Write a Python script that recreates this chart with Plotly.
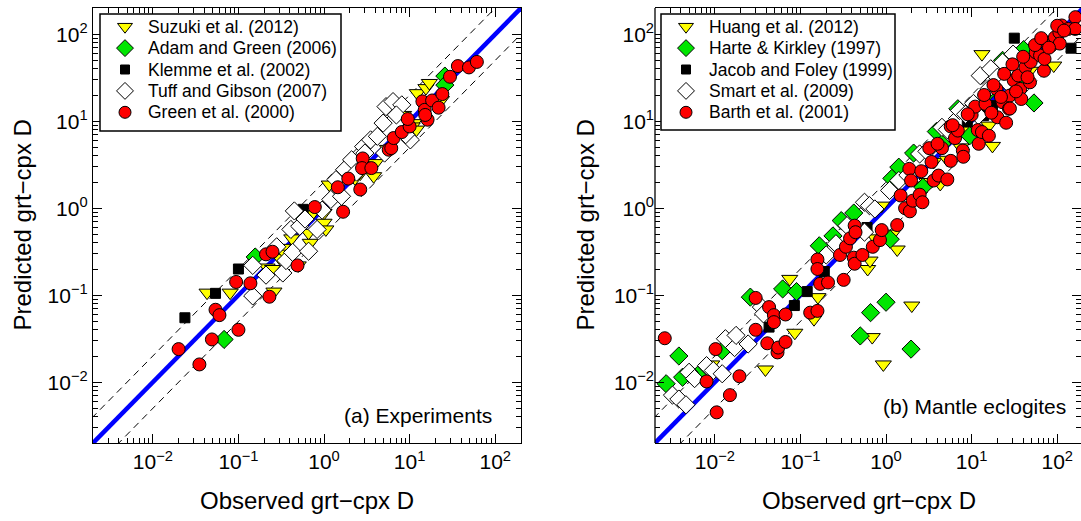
import plotly.graph_objects as go
import numpy as np

# ---------------- data: panel (a) Experiments ----------------
suzuki_x = [0.043, 0.080, 0.26, 0.216, 0.25, 0.30, 0.33, 0.50, 0.66, 0.69, 0.60, 0.72, 1.0, 1.0, 1.05, 1.15,
            3.8, 2.65, 4.0, 8.5, 11.2, 12.3, 15.5, 17, 23.5, 10.7, 0.35, 0.42, 2.3, 5.5, 12.0]
suzuki_y = [0.107, 0.107, 0.11, 0.208, 0.20, 0.27, 0.35, 0.22, 0.52, 0.40, 0.71, 0.85, 0.88, 0.68, 0.57, 1.87,
            2.33, 2.5, 3.3, 11.8, 9.5, 21, 24, 27.5, 17.5, 8.7, 0.30, 0.45, 2.2, 4.8, 8.0]

adam_x = [0.068, 0.157, 0.55, 25.8, 25.8]
adam_y = [0.031, 0.275, 0.82, 33, 26]

klemme_x = [0.0237, 0.054, 0.10, 0.57]
klemme_y = [0.055, 0.105, 0.20, 0.97]

tuff_x = [0.147, 0.147, 0.21, 0.33, 0.36, 0.41, 0.45, 0.43, 0.66, 0.52, 0.83, 1.2, 1.6, 1.38, 1.74, 2.1,
          2.9, 3.5, 4.2, 4.9, 5.3, 6.4, 8.1, 7.0, 10.2, 3.0, 5.1, 0.28, 0.6, 0.95, 2.4, 9.0]
tuff_y = [0.098, 0.22, 0.17, 0.18, 0.25, 0.57, 0.93, 0.31, 0.32, 0.62, 0.57, 1.26, 1.37, 2.13, 2.77, 3.6,
          5.1, 6.1, 6.7, 9.5, 14.7, 16.8, 15.4, 11.8, 6.1, 4.3, 4.3, 0.36, 0.75, 0.95, 2.6, 7.0]

green_x = [0.020, 0.035, 0.049, 0.054, 0.060, 0.10, 0.094, 0.138, 0.21, 0.25, 0.23, 0.49, 0.78, 1.67, 1.45,
           1.92, 2.65, 2.83, 2.78, 3.57, 5.7, 6.1, 6.5, 8.1, 10, 9.5, 14.1, 15.0, 16.2, 15.2, 18.3, 21.8,
           24.1, 29.6, 36.6, 49.3, 61]
green_y = [0.024, 0.016, 0.031, 0.068, 0.059, 0.040, 0.142, 0.137, 0.295, 0.316, 0.096, 0.22, 1.03, 0.91, 1.74,
           2.19, 1.64, 3.73, 2.89, 2.89, 4.7, 4.9, 6.4, 7.5, 8.7, 10.6, 16.9, 13.5, 10.4, 11.8, 17.3, 14.3,
           20.5, 32.4, 43, 41.5, 48]

# ---------------- data: panel (b) Mantle eclogites ----------------
huang_x = [0.039, 0.086, 0.075, 0.16, 0.144, 0.0092, 0.61, 0.65, 0.69, 0.93, 2.0, 1.35, 1.2, 0.89, 4.3,
           13.2, 17.5, 91, 46.5, 15.9, 9.1, 3.6, 2.47, 0.75, 30, 60, 3.0, 5.2, 7.5, 22, 48]
huang_y = [0.014, 0.037, 0.154, 0.095, 0.053, 0.016, 0.20, 0.25, 0.033, 0.016, 0.076, 0.335, 0.51, 1.07, 1.9,
           59, 5.2, 43.6, 67, 8.9, 7.8, 3.4, 1.82, 0.45, 22, 60, 2.0, 3.6, 5.0, 30, 38]

harte_x = [0.0027, 0.0038, 0.0042, 0.0063, 0.0122, 0.026, 0.062, 0.090, 0.166, 0.24, 0.30, 0.42, 0.50, 0.66,
           1.0, 1.96, 1.12, 1.41, 2.1, 3.87, 6.9, 9.5, 23, 40.5, 53.5, 2.7, 1.17, 20, 11, 35, 4.5, 16]
harte_y = [0.0096, 0.020, 0.0114, 0.012, 0.023, 0.095, 0.118, 0.11, 0.37, 0.48, 0.72, 0.88, 0.034, 0.063,
           0.083, 0.024, 0.44, 2.96, 4.3, 7.6, 13.9, 6.8, 50, 66.5, 16.2, 1.74, 2.2, 28, 14, 30, 5.5, 22]

jacob_x = [0.043, 0.085, 0.12, 0.19, 0.60, 8.9, 13.8, 17.5, 31.5, 145]
jacob_y = [0.043, 0.076, 0.11, 0.187, 0.60, 9.9, 11.6, 15.1, 90, 69]

smart_x = [0.0032, 0.0038, 0.0046, 0.0050, 0.0058, 0.0080, 0.0096, 0.0122, 0.0133, 0.017, 0.0177, 0.0245,
           0.035, 0.037, 0.20, 0.26, 0.35, 0.56, 0.64, 0.74, 0.56, 1.41, 2.47, 4.5, 7.2, 12.6, 16.7, 23,
           30.5, 15.9, 12, 1.1, 1.8, 3.0, 5.2, 8.5, 10.5, 20, 26]
smart_y = [0.0071, 0.0064, 0.0055, 0.013, 0.011, 0.0155, 0.0136, 0.0125, 0.0316, 0.025, 0.0345, 0.0275,
           0.073, 0.061, 0.29, 0.39, 0.63, 1.17, 1.07, 0.98, 0.53, 2.08, 4.2, 8.5, 13.3, 33.4, 40, 47.6,
           59, 23.5, 11.6, 1.6, 2.4, 4.5, 8.0, 12.0, 16.0, 32, 28]

barth_x = [0.0026, 0.0080, 0.0105, 0.0102, 0.015, 0.0194, 0.030, 0.030, 0.041, 0.043, 0.049, 0.049, 0.054,
           0.055, 0.067, 0.067, 0.13, 0.158, 0.158, 0.158, 0.17, 0.21, 0.29, 0.32, 0.34, 0.38, 0.42, 0.43,
           0.43, 0.44, 0.53, 0.70, 0.85, 0.89, 1.35, 1.48, 1.67, 1.9, 2.05, 1.87, 1.96, 2.47, 2.66, 2.58,
           3.2, 3.4, 3.6, 4.1, 4.5, 5.2, 5.7, 5.7, 6.4, 6.9, 7.9, 10, 11, 11.8, 12.1, 13.2, 14.5, 15.9,
           19.5, 20, 23, 25.3, 27.3, 27.9, 31, 35, 37, 38, 42.5, 48, 49, 56, 63, 70, 71, 72, 85, 94, 106,
           107, 113, 135, 163, 162, 8.0, 17.0, 22.0, 4.0, 6.0, 9.0, 14, 18, 24, 30, 40, 55, 65, 80, 100,
           120, 28, 33, 45]
barth_y = [0.032, 0.0102, 0.0045, 0.024, 0.0071, 0.0117, 0.093, 0.040, 0.028, 0.073, 0.059, 0.049, 0.022,
           0.025, 0.060, 0.029, 0.063, 0.066, 0.257, 0.20, 0.135, 0.14, 0.29, 0.15, 0.36, 0.45, 0.27, 0.23,
           0.63, 0.53, 0.29, 0.36, 0.43, 0.56, 0.64, 1.40, 1.0, 0.92, 1.22, 2.83, 2.08, 1.43, 1.17, 2.66,
           4.9, 3.4, 2.08, 2.37, 4.9, 2.14, 3.5, 8.7, 6.4, 7.8, 4.6, 11.8, 14.7, 7.9, 5.5, 7.5, 15.8, 6.8,
           23.5, 11.1, 16.5, 9.6, 13.9, 19.7, 29.5, 33.5, 23.5, 18, 41.7, 28, 48, 62, 57, 38, 52, 81, 74,
           92, 105, 78, 126, 115, 157, 115, 3.9, 12.5, 19.0, 5.5, 9.0, 12.0, 20, 26, 35, 45, 55, 75, 90,
           70, 125, 110, 14, 22, 32]

tick_vals = [0.01, 0.1, 1, 10, 100]
tick_text = ["10<sup>\u22122</sup>", "10<sup>\u22121</sup>", "10<sup>0</sup>", "10<sup>1</sup>", "10<sup>2</sup>"]

# axis limits
DMIN, DMAX = 0.002, 200.0
LOG_LO, LOG_HI = np.log10(DMIN), np.log10(DMAX)

FONT = "Liberation Sans, Arial, sans-serif"
W, H = 1081, 521
AX_L, AX_R = 93, 521
BX_L = 655
Y_TOP, Y_BOT = 8, 443
px_per_dec = (AX_R - AX_L) / (LOG_HI - LOG_LO)
right_hi = LOG_LO + (W - BX_L) / px_per_dec

fig = go.Figure()

ref = [DMIN / 10, DMAX * 10]


def add_lines(xa, ya):
    fig.add_trace(go.Scatter(x=ref, y=[v * 2 for v in ref], mode="lines", xaxis=xa, yaxis=ya,
                             line=dict(color="black", width=1, dash="7px,5px"), showlegend=False, hoverinfo="skip"))
    fig.add_trace(go.Scatter(x=ref, y=[v / 2 for v in ref], mode="lines", xaxis=xa, yaxis=ya,
                             line=dict(color="black", width=1, dash="7px,5px"), showlegend=False, hoverinfo="skip"))
    fig.add_trace(go.Scatter(x=ref, y=ref, mode="lines", xaxis=xa, yaxis=ya,
                             line=dict(color="#0000ff", width=4.5), showlegend=False, hoverinfo="skip"))


add_lines("x", "y")
add_lines("x2", "y2")

ml = dict(color="black", width=1)
series_a = [
    ("Suzuki et al. (2012)", suzuki_x, suzuki_y, "triangle-down", "#ffff00", 14),
    ("Adam and Green (2006)", adam_x, adam_y, "diamond", "#00e600", 14),
    ("Klemme et al. (2002)", klemme_x, klemme_y, "square", "black", 10),
    ("Tuff and Gibson (2007)", tuff_x, tuff_y, "diamond", "white", 14),
    ("Green et al. (2000)", green_x, green_y, "circle", "#ff0000", 13),
]
series_b = [
    ("Huang et al. (2012)", huang_x, huang_y, "triangle-down", "#ffff00", 14),
    ("Harte &amp; Kirkley (1997)", harte_x, harte_y, "diamond", "#00e600", 14),
    ("Jacob and Foley (1999)", jacob_x, jacob_y, "square", "black", 10),
    ("Smart et al. (2009)", smart_x, smart_y, "diamond", "white", 14),
    ("Barth et al. (2001)", barth_x, barth_y, "circle", "#ff0000", 13),
]
for name, xs, ys, sym, col, sz in series_a:
    fig.add_trace(go.Scatter(x=xs, y=ys, mode="markers", name=name, xaxis="x", yaxis="y",
                             marker=dict(symbol=sym, color=col, size=sz, line=ml)))
for name, xs, ys, sym, col, sz in series_b:
    fig.add_trace(go.Scatter(x=xs, y=ys, mode="markers", name=name, xaxis="x2", yaxis="y2",
                             marker=dict(symbol=sym, color=col, size=sz, line=ml)))

minor_vals = [m * 10.0 ** e for e in range(-3, 3) for m in range(2, 10)]


def axis(rng, domain, anchor, showline=True):
    return dict(type="log", range=rng, domain=domain, anchor=anchor, showgrid=False, zeroline=False,
                showline=showline, linecolor="black", linewidth=1.3, mirror="ticks",
                ticks="inside", ticklen=9, tickwidth=1, tickcolor="black",
                tickmode="array", tickvals=tick_vals, ticktext=tick_text,
                tickfont=dict(family=FONT, size=21, color="black"),
                minor=dict(ticks="inside", ticklen=5, tickwidth=1, tickcolor="black",
                           tickmode="array", tickvals=minor_vals, showgrid=False))


ydom = [1 - Y_BOT / H, 1 - Y_TOP / H]
fig.update_layout(
    width=W, height=H, margin=dict(l=0, r=0, t=0, b=0),
    paper_bgcolor="white", plot_bgcolor="rgba(0,0,0,0)",
    font=dict(family=FONT, color="black"),
    xaxis=axis([LOG_LO, LOG_HI], [AX_L / W, AX_R / W], "y"),
    yaxis=axis([LOG_LO, LOG_HI], ydom, "x"),
    xaxis2=axis([LOG_LO, right_hi], [BX_L / W, 1.0], "y2"),
    yaxis2=axis([LOG_LO, LOG_HI], ydom, "x2", showline=False),
    # pixel overlay for the legends
    xaxis3=dict(domain=[0, 1], range=[0, W], anchor="y3", visible=False, fixedrange=True),
    yaxis3=dict(domain=[0, 1], range=[H, 0], anchor="x3", visible=False, fixedrange=True),
    showlegend=False,
)

# left frame line of right panel
fig.add_shape(type="line", xref="x2 domain", yref="y2 domain", x0=0, x1=0, y0=0, y1=1,
              line=dict(color="black", width=1.3))

# ---- hand-built legends (box, symbols, labels) ----
LEG_ROW0, LEG_DY = 26.7, 21.4
legends = [
    (series_a, (100, 341, 14, 131), 125, 146),
    (series_b, (661, 895, 14, 130), 686, 707),
]
leg_font = dict(family=FONT, size=17.5, color="black")
for series, (bx0, bx1, by0, by1), sym_x, txt_x in legends:
    fig.add_shape(type="rect", xref="x3", yref="y3", x0=bx0, x1=bx1, y0=by0, y1=by1, layer="below",
                  fillcolor="white", line=dict(color="black", width=1.5))
    for i, (name, xs, ys, sym, col, sz) in enumerate(series):
        yy = LEG_ROW0 + i * LEG_DY
        fig.add_trace(go.Scatter(x=[sym_x], y=[yy], mode="markers", xaxis="x3", yaxis="y3",
                                 marker=dict(symbol=sym, color=col, size=sz - 1, line=ml),
                                 showlegend=False, hoverinfo="skip"))
        fig.add_annotation(xref="x3", yref="y3", x=txt_x, y=yy, text=name, showarrow=False,
                           xanchor="left", yanchor="middle", font=leg_font)

ann_font = dict(family=FONT, size=21, color="black")
fig.add_annotation(xref="x", yref="y", x=1.98, y=-2.38, text="(a) Experiments", showarrow=False,
                   xanchor="right", yanchor="middle", font=ann_font)
fig.add_annotation(xref="x2", yref="y2", x=2.13, y=-2.28, text="(b) Mantle eclogites", showarrow=False,
                   xanchor="right", yanchor="middle", font=ann_font)

title_font = dict(family=FONT, size=24, color="black")
for cx in [(AX_L + AX_R) / 2, (BX_L + BX_L + (AX_R - AX_L)) / 2]:
    fig.add_annotation(xref="paper", yref="paper", x=cx / W, y=1 - 500 / H, text="Observed grt\u2212cpx D",
                       showarrow=False, xanchor="center", yanchor="middle", font=title_font)
for cx in [22, 585]:
    fig.add_annotation(xref="paper", yref="paper", x=cx / W, y=1 - ((Y_TOP + Y_BOT) / 2) / H,
                       text="Predicted grt\u2212cpx D", textangle=-90,
                       showarrow=False, xanchor="center", yanchor="middle", font=title_font)

fig.write_html("out.html")
